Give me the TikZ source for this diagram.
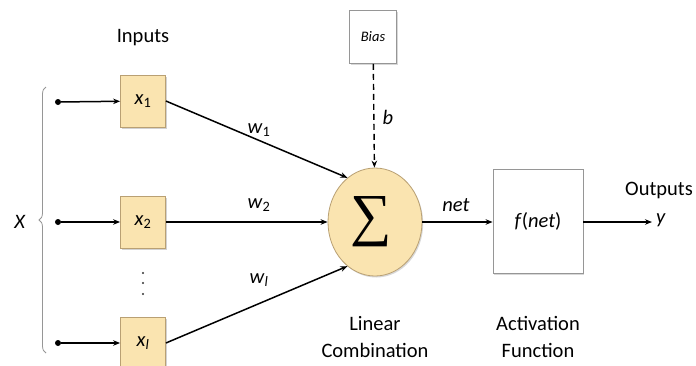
\documentclass[tikz,border=0pt]{standalone}
\usepackage{fontspec}
\setmainfont{Carlito}
\newfontfamily\sumfont{Liberation Serif}
\usetikzlibrary{arrows.meta,shapes.geometric,decorations.pathreplacing,shadows}
\definecolor{boxfill}{RGB}{250,228,176}
\definecolor{boxline}{RGB}{185,160,115}
\definecolor{greyline}{RGB}{150,150,150}
\tikzset{
  inbox/.style={draw=boxline,fill=boxfill,line width=0.8pt,minimum width=45pt,minimum height=52pt,inner sep=0pt,
    drop shadow={shadow xshift=1.2pt,shadow yshift=-1.5pt,opacity=0.35}},
  whitebox/.style={draw=greyline,fill=white,line width=0.8pt,inner sep=0pt,
    drop shadow={shadow xshift=1.2pt,shadow yshift=-1.5pt,opacity=0.3}},
  dotnode/.style={circle,fill=black,inner sep=0pt,minimum size=6pt},
  smalldot/.style={circle,fill=black!80,inner sep=0pt,minimum size=2.4pt},
  conn/.style={line width=1.5pt,-{Stealth[length=7pt,width=5.5pt]}},
  lbl/.style={font=\fontsize{20.5}{24}\selectfont},
}
\begin{document}
\begin{tikzpicture}[x=1pt,y=-1pt]
\path[use as bounding box,fill=white] (0,0) rectangle (696,365);
% inputs
\node[lbl] (inputs) at (143,38) {Inputs};
\node[inbox,lbl] (x1) at (143,101) {\textit{x}\textsubscript{1}};
\node[inbox,lbl] (x2) at (143,222) {\textit{x}\textsubscript{2}};
\node[inbox,lbl] (xl) at (143,343) {\textit{x}\textsubscript{\textit{l}}};
\node[smalldot] (v1) at (143,273) {};
\node[smalldot] (v2) at (143,283) {};
\node[smalldot] (v3) at (143,294) {};
\node[dotnode] (d1) at (58,102) {};
\node[dotnode] (d2) at (58,222) {};
\node[dotnode] (dl) at (58,343) {};
\draw[conn] (d1) -- (x1);
\draw[conn] (d2) -- (x2);
\draw[conn] (dl) -- (xl);
% brace
\coordinate (bb) at (46,353);
\coordinate (bt) at (46,87);
\draw[greyline,line width=0.8pt,decorate,decoration={brace,amplitude=7pt}] (bb) -- (bt);
\node[lbl] (X) at (20,222) {\textit{X}};
% sum
\node[ellipse,draw=boxline,fill=boxfill,line width=0.8pt,minimum width=94pt,minimum height=108pt,inner sep=0pt,
  drop shadow={shadow xshift=1.2pt,shadow yshift=-1.5pt,opacity=0.3}] (sum) at (375,222) {};
\node[inner sep=0pt] (sigma) at (371,222) {\fontsize{58}{58}\sumfont ∑};
% bias
\node[whitebox,minimum width=47pt,minimum height=53pt,font=\fontsize{14.5}{16}\selectfont\itshape] (bias) at (373,37) {Bias};
\draw[line width=1.4pt,dash pattern=on 6pt off 4pt,-{Stealth[length=7pt,width=5.5pt]}] (bias) -- (sum);
\node[lbl] (b) at (388,117) {\textit{b}};
% weights
\draw[conn] (x1.east) -- (sum.122);
\draw[conn] (x2.east) -- (sum.west);
\draw[conn] (xl.east) -- (sum.238);
\node[lbl] (w1) at (259,130) {\textit{w}\textsubscript{1}};
\node[lbl] (w2) at (259,205) {\textit{w}\textsubscript{2}};
\node[lbl] (wl) at (259,280) {\textit{w}\textsubscript{\textit{l}}};
% activation
\node[whitebox,minimum width=90pt,minimum height=104pt,lbl] (f) at (538,221) {\textit{f}(\textit{net})};
\draw[conn] (sum.east) -- (f.west |- sum.east);
\node[lbl] (net) at (456,205) {\textit{net}};
\coordinate (yend) at (652,222);
\draw[conn] (f.east |- yend) -- (yend);
\node[lbl] (y) at (661,220) {\textit{y}};
\node[lbl,inner sep=1pt] (outputs) at (659,190) {Outputs};
% captions
\node[lbl,align=center] (lin) at (375,337) {Linear\\[3pt]Combination};
\node[lbl,align=center] (act) at (538,337) {Activation\\[3pt]Function};
\end{tikzpicture}
\end{document}
